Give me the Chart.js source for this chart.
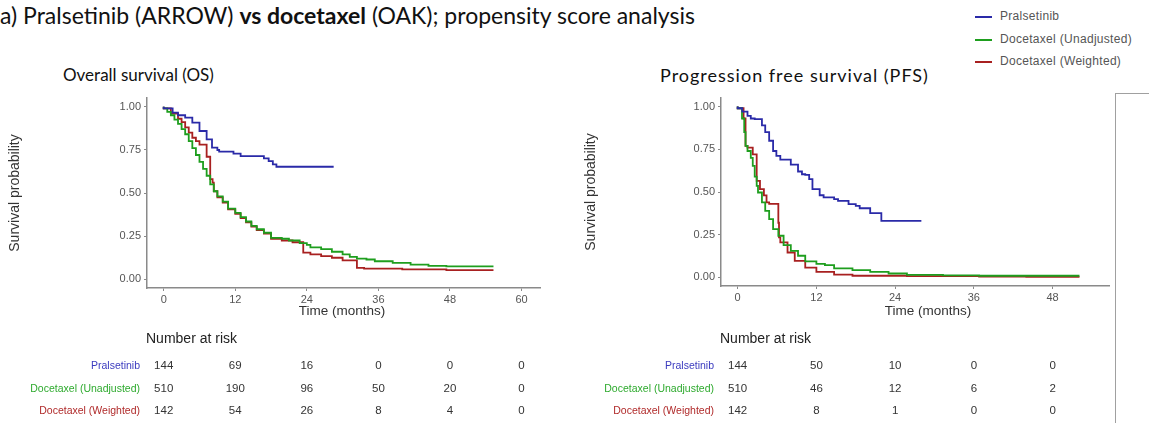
<!DOCTYPE html>
<html>
<head>
<meta charset="utf-8">
<script src="https://cdn.jsdelivr.net/npm/chart.js@4.4.1/dist/chart.umd.min.js"></script>
<style>
  body { margin: 0; width: 1149px; height: 423px; background: #fff; position: relative; overflow: hidden; font-family: "Liberation Sans", Arial, sans-serif; }
  .abs { position: absolute; white-space: nowrap; }
  #title { left: 0; top: 1px; font-family: Lato, "Open Sans", sans-serif; font-size: 23px; color: #111; }
  .panel { top: 64px; font-family: Lato, "Open Sans", sans-serif; font-size: 17px; color: #111; }
  .leg { left: 975px; font-size: 12px; letter-spacing: 0.3px; color: #555; }
  .leg span { display: inline-block; width: 17px; height: 2px; vertical-align: middle; margin-right: 8px; }
  #box { left: 1115px; top: 93px; width: 40px; height: 340px; border-left: 1.5px solid #a0a0a0; border-top: 1.5px solid #a0a0a0; }
  canvas { position: absolute; top: 0; }
</style>
</head>
<body>
<div id="title" class="abs">a) Pralsetinib (ARROW) <b>vs docetaxel</b> (OAK); propensity score analysis</div>
<div class="abs panel" style="left:63px">Overall survival (OS)</div>
<div class="abs panel" style="left:660px; font-size:18px; letter-spacing:1px">Progression free survival (PFS)</div>
<div class="abs leg" style="top:9px"><span style="background:#2a2aa8"></span>Pralsetinib</div>
<div class="abs leg" style="top:32px"><span style="background:#1e9e1e"></span>Docetaxel (Unadjusted)</div>
<div class="abs leg" style="top:54px"><span style="background:#a82020"></span>Docetaxel (Weighted)</div>
<div id="box" class="abs"></div>
<canvas id="os" width="560" height="423" style="left:0"></canvas>
<canvas id="pfs" width="535" height="423" style="left:580px"></canvas>
<script>
// groups and colours
const groups = ['Pralsetinib', 'Docetaxel (Unadjusted)', 'Docetaxel (Weighted)'];
const lineColors = ['#2a2aa8', '#1e9e1e', '#a82020'];
const labelColors = ['#3b3bbf', '#2eaa2e', '#b02a2a'];

// tick labels
const osTimes = [0, 12, 24, 36, 48, 60];
const pfsTimes = [0, 12, 24, 36, 48];
const yTicks = [0, 0.25, 0.5, 0.75, 1];

// number at risk
const osRisk = [
  [144, 69, 16, 0, 0, 0],
  [510, 190, 96, 50, 20, 0],
  [142, 54, 26, 8, 4, 0]
];
const pfsRisk = [
  [144, 50, 10, 0, 0],
  [510, 46, 12, 6, 2],
  [142, 8, 1, 0, 0]
];

// Kaplan-Meier curves: [months, survival]
const osPral = [[0,1],[1.5,0.99],[2.4,0.965],[3.6,0.95],[4.8,0.936],[6,0.907],[7.2,0.859],[8.1,0.81],[9,0.763],[9.3,0.749],
  [11.7,0.74],[12.9,0.728],[16.8,0.714],[17.6,0.70],[18.3,0.685],[18.9,0.666],[19.3,0.652],[28.5,0.652]];
const osUnadj = [[0,1],[0.6,0.99],[1.2,0.97],[1.8,0.95],[2.4,0.925],[3,0.9],[3.6,0.87],[4.2,0.84],[4.8,0.80],[5.4,0.76],
  [6,0.72],[6.6,0.68],[7.2,0.64],[7.8,0.60],[8.4,0.55],[9,0.51],[9.9,0.48],[10.8,0.45],[12,0.41],[12.9,0.385],[13.8,0.36],
  [14.7,0.335],[15.6,0.31],[16.8,0.29],[18,0.27],[19.8,0.24],[21,0.235],[22.8,0.225],[24,0.21],[24.6,0.2],[26.4,0.185],
  [28.2,0.175],[30,0.16],[31.2,0.145],[32.4,0.13],[34,0.12],[35.4,0.115],[38.4,0.105],[41.4,0.095],[44.4,0.085],
  [47.4,0.078],[50.4,0.075],[55.3,0.075]];
const osWeight = [[0,1],[1.2,0.99],[2.4,0.96],[3,0.93],[3.6,0.91],[4.2,0.88],[4.8,0.85],[5.4,0.82],[6,0.8],[7.2,0.78],
  [7.8,0.71],[8.2,0.58],[8.4,0.56],[9,0.51],[9.9,0.475],[10.8,0.445],[12,0.405],[12.9,0.38],[13.8,0.355],[14.7,0.33],
  [15.6,0.305],[16.8,0.285],[18,0.265],[19.8,0.235],[21.6,0.225],[23.4,0.215],[24.6,0.155],[26.4,0.145],[28.2,0.135],
  [30,0.125],[32.4,0.11],[33.6,0.066],[40,0.062],[47.4,0.058],[50,0.053],[55.3,0.053]];

const pfsPral = [[0,1],[0.7,0.99],[1.5,0.97],[2,0.945],[2.6,0.93],[3.7,0.926],[4.2,0.89],[4.8,0.85],[5.4,0.80],[5.9,0.74],
  [6.5,0.711],[8.1,0.69],[9.2,0.66],[9.8,0.62],[10.3,0.604],[10.9,0.60],[11.4,0.575],[12.5,0.517],[13.1,0.481],[14.7,0.468],
  [15.3,0.458],[16.9,0.448],[18,0.429],[18.6,0.419],[20.2,0.405],[21.9,0.376],[24.1,0.331],[28,0.331]];
const pfsUnadj = [[0,1],[0.66,0.99],[1,0.93],[1.2,0.85],[1.5,0.77],[2,0.74],[2.3,0.70],[2.6,0.653],[2.9,0.59],[3.1,0.536],
  [3.7,0.497],[4.2,0.439],[4.8,0.39],[5.4,0.341],[6.2,0.283],[7,0.244],[8.1,0.189],[9.2,0.156],[10.3,0.127],[12,0.094],
  [13.3,0.08],[14.7,0.072],[17.5,0.053],[20.2,0.043],[23,0.033],[25.8,0.023],[31.3,0.015],[36.8,0.012],[45,0.01],[52.1,0.01]];
const pfsWeight = [[0,1],[0.9,0.99],[1.2,0.93],[1.5,0.77],[2.3,0.76],[2.9,0.72],[3.4,0.565],[4,0.517],[4.4,0.48],[4.8,0.439],
  [6.2,0.43],[6.3,0.32],[6.5,0.234],[7.6,0.205],[8.7,0.146],[10.3,0.097],[12,0.058],[14.7,0.033],[17.5,0.016],[25.8,0.01],
  [36.8,0.008],[44,0.005],[52.1,0.003]];

const FONT = '"Liberation Sans", Arial, sans-serif';

// x axis title + "Number at risk" table, columns taken from the x scale
const riskTable = {
  id: 'riskTable',
  afterDraw(chart, args, opts) {
    const ctx = chart.ctx;
    const xs = chart.scales.x;
    ctx.save();
    ctx.textBaseline = 'middle';
    ctx.font = '13.5px ' + FONT;
    ctx.fillStyle = '#333';
    ctx.textAlign = 'center';
    ctx.fillText('Time (months)', opts.titleX, opts.titleY);

    ctx.font = '14px ' + FONT;
    ctx.fillStyle = '#222';
    ctx.textAlign = 'left';
    ctx.fillText('Number at risk', opts.headX, opts.headY);
    opts.rows.forEach((row, i) => {
      const y = opts.rowY[i];
      ctx.font = '10.5px ' + FONT;
      ctx.fillStyle = labelColors[i];
      ctx.textAlign = 'right';
      ctx.fillText(groups[i], opts.labelX, y);
      ctx.font = '11.5px ' + FONT;
      ctx.fillStyle = '#333';
      ctx.textAlign = 'center';
      row.forEach((n, j) => ctx.fillText(String(n), xs.getPixelForValue(opts.times[j]), y));
    });
    ctx.restore();
  }
};

function kmChart(id, curves, cfg) {
  const ctx = document.getElementById(id).getContext('2d');
  return new Chart(ctx, {
    type: 'line',
    data: {
      datasets: curves.map((c, i) => ({
        label: groups[i],
        data: c.map(p => ({ x: p[0], y: p[1] })),
        borderColor: lineColors[i],
        borderWidth: 1.8,
        pointRadius: 0,
        stepped: 'after',
        fill: false
      }))
    },
    options: {
      responsive: false,
      animation: false,
      layout: { padding: cfg.padding },
      plugins: {
        legend: { display: false },
        tooltip: { enabled: false },
        riskTable: cfg.table
      },
      scales: {
        x: {
          type: 'linear',
          min: cfg.xMin, max: cfg.xMax,
          afterBuildTicks: s => { s.ticks = cfg.times.map(v => ({ value: v })); },
          afterFit: s => { s.height = 30; },
          grid: { drawOnChartArea: false, tickLength: 3, color: '#8a8a8a' },
          border: { color: '#8a8a8a', width: 1.5 },
          ticks: { padding: 2, color: '#555', font: { size: 11, family: FONT }, maxRotation: 0 }
        },
        y: {
          type: 'linear',
          min: -0.05, max: 1.05,
          afterBuildTicks: s => { s.ticks = yTicks.map(v => ({ value: v })); },
          afterFit: s => { s.width = cfg.yWidth; },
          grid: { drawOnChartArea: false, tickLength: 3, color: '#8a8a8a' },
          border: { color: '#8a8a8a', width: 1.5 },
          ticks: { padding: 3, color: '#555', font: { size: 11, family: FONT }, callback: v => v.toFixed(2) },
          title: { display: true, text: 'Survival probability', color: '#333', font: { size: 14, family: FONT }, padding: { top: 2, bottom: 2 } }
        }
      }
    },
    plugins: [riskTable]
  });
}

kmChart('os', [osPral, osUnadj, osWeight], {
  times: osTimes, xMin: -2.8, xMax: 63.1,
  padding: { left: 5, right: 20, top: 98, bottom: 105 },
  yWidth: 142,
  table: { rows: osRisk, times: osTimes, titleX: 342, titleY: 311, headX: 146, headY: 339, labelX: 140, rowY: [366, 389, 411] }
});

kmChart('pfs', [pfsPral, pfsUnadj, pfsWeight], {
  times: pfsTimes, xMin: -2.54, xMax: 56.6,
  padding: { left: 1, right: 6, top: 98, bottom: 107 },
  yWidth: 140,
  table: { rows: pfsRisk, times: pfsTimes, titleX: 348, titleY: 311, headX: 140, headY: 339, labelX: 134, rowY: [366, 389, 411] }
});
</script>
</body>
</html>
